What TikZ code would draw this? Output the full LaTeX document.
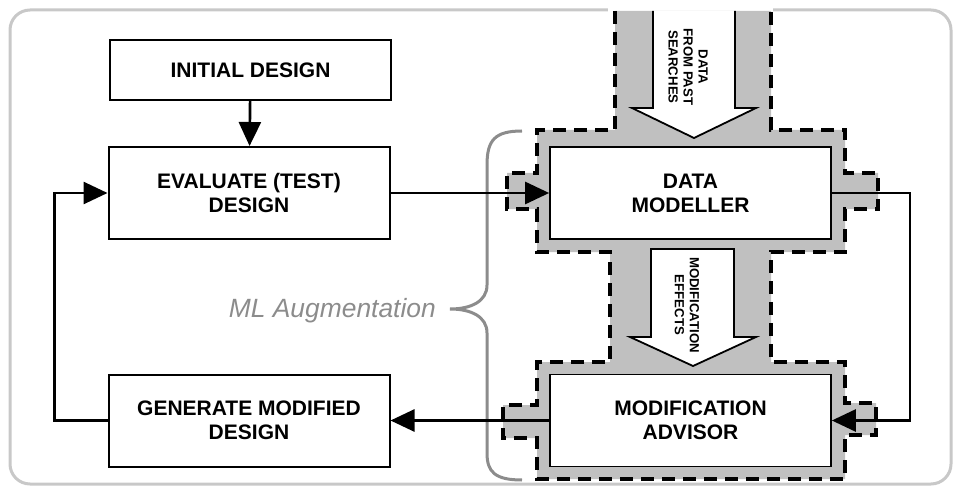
\documentclass[tikz,border=0pt]{standalone}
\usepackage{fontspec}
\setmainfont{Liberation Sans}
\usetikzlibrary{arrows.meta, positioning}
\definecolor{FrameGray}{RGB}{200, 200, 200}
\definecolor{ZoneGray}{RGB}{192, 192, 192}
\definecolor{NoteGray}{RGB}{140, 140, 140}

\begin{document}
\begin{tikzpicture}[x=1pt, y=-1pt,
        block/.style={rectangle, draw=black, fill=white, line width=2pt, minimum width=281pt, minimum height=92pt, align=center, font=\bfseries\fontsize{21}{24}\selectfont},
        flow/.style={line width=2.7pt, -{Triangle[length=24pt, width=22pt]}},
        zone/.style={draw=black, fill=ZoneGray, line width=3.3pt, dash pattern=on 13pt off 8pt},
        fatarrow/.style={draw=black, fill=white, line width=1.8pt, line join=miter},
        tag/.style={rotate=-90, align=center, font=\bfseries\fontsize{13.2}{15}\selectfont}
    ]
        \useasboundingbox (0,0) rectangle (955,489);

        % ================= MARCO EXTERIOR =================
        \draw[FrameGray, line width=3pt, rounded corners=20pt] (10,10) rectangle (951,484);
        \fill[white] (608,0) rectangle (773,12);

        % ================= ZONA ML (GRIS, DISCONTINUA) =================
        \draw[zone] (615,11) -- (615,130) -- (537,130) -- (537,173) -- (507,173) -- (507,209) -- (537,209)
            -- (537,252) -- (610,252) -- (610,362) -- (537,362) -- (537,405) -- (503,405) -- (503,438)
            -- (537,438) -- (537,479) -- (845,479) -- (845,435) -- (876,435) -- (876,403) -- (845,403)
            -- (845,362) -- (771,362) -- (771,252) -- (845,252) -- (845,209) -- (878,209) -- (878,173)
            -- (845,173) -- (845,130) -- (771,130) -- (771,11);

        % flechas blancas
        \draw[fatarrow] (653,11) -- (653,108) -- (632,108) -- (694,138) -- (756,108) -- (735,108) -- (735,11);
        \draw[fatarrow] (651,249) -- (651,337) -- (630,337) -- (693,366) -- (756,337) -- (734,337) -- (734,249) -- cycle;
        \node[tag] (pastlbl) at (688,67) {DATA\\FROM PAST\\SEARCHES};
        \node[tag] (effectslbl) at (687,305) {MODIFICATION\\EFFECTS};

        % ================= BLOQUES =================
        \node[block, minimum height=60pt] (initial) at (250.5,70) {INITIAL DESIGN};
        \node[block] (evaluate) at (249,193) {EVALUATE (TEST)\\DESIGN};
        \node[block] (generate) at (249,420.5) {GENERATE MODIFIED\\DESIGN};
        \node[block, line width=1.7pt] (modeller) at (690.5,193) {DATA\\MODELLER};
        \node[block, line width=1.7pt] (advisor) at (690.5,420.5) {MODIFICATION\\ADVISOR};

        % llave
        \draw[NoteGray, line width=3pt] (522,131) .. controls (495,131) and (487,140) .. (487,165) -- (487,285)
            .. controls (487,302) and (470,309) .. (450,309) .. controls (470,309) and (487,316) .. (487,333)
            -- (487,453) .. controls (487,472) and (495,480) .. (522,480);
        \node[anchor=base east, inner sep=0pt, text=NoteGray, font=\itshape\fontsize{26.4}{30}\selectfont] (mlnote) at (436,317) {ML Augmentation};

        % ================= CONEXIONES =================
        \draw[flow] (initial) -- (evaluate);
        \draw[flow] (evaluate) -- (modeller);
        \draw[flow] (advisor) -- (generate);
        \draw[flow] (generate.west) -- ++(-53,0) |- (evaluate.west);
        \draw[flow] (modeller.east) -- ++(78,0) |- (advisor.east);
    \end{tikzpicture}
\end{document}
